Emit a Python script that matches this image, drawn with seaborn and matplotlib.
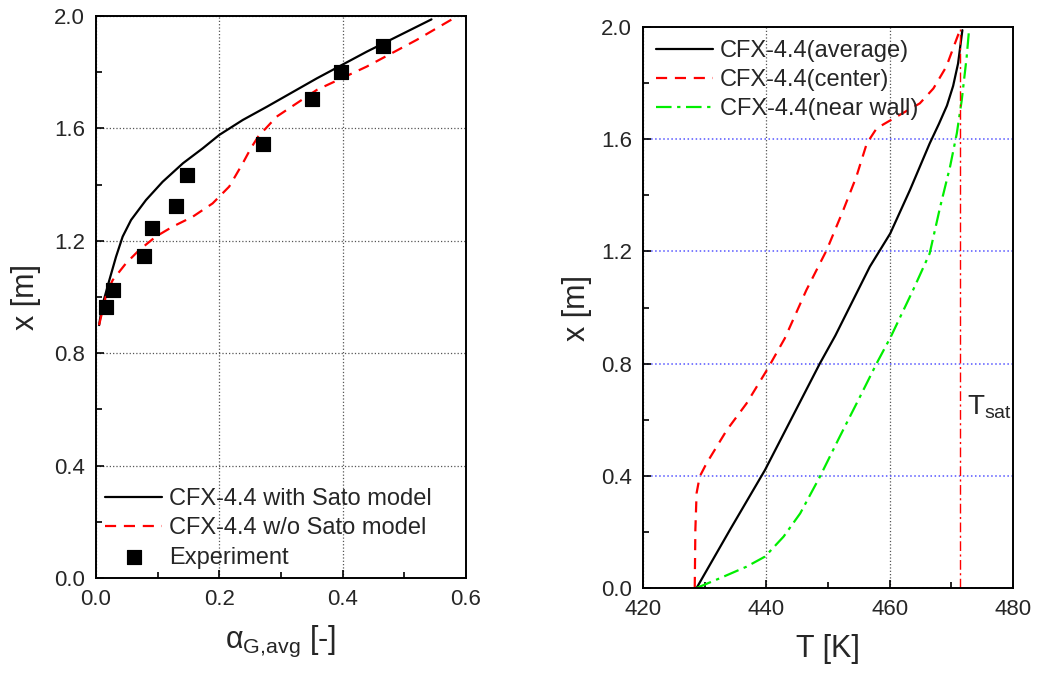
import numpy as np
import pandas as pd
import seaborn as sns
import matplotlib.pyplot as plt
from matplotlib.ticker import MultipleLocator, FormatStrFormatter

# === Dati: pannello sinistro (frazione di vuoto) ===
sato_alpha = [0.005, 0.0097, 0.0216, 0.0324, 0.0432, 0.0568, 0.081, 0.108, 0.141, 0.173, 0.200,
              0.238, 0.277, 0.358, 0.439, 0.544]
sato_x = [0.90, 0.966, 1.060, 1.143, 1.215, 1.274, 1.345, 1.410, 1.476, 1.529, 1.577,
          1.630, 1.677, 1.778, 1.873, 1.988]

nosato_alpha = [0.005, 0.017, 0.027, 0.0486, 0.070, 0.097, 0.124, 0.157, 0.189, 0.216, 0.238,
                0.251, 0.263, 0.293, 0.358, 0.439, 0.520, 0.577]
nosato_x = [0.900, 1.013, 1.060, 1.120, 1.167, 1.215, 1.250, 1.286, 1.333, 1.393, 1.476,
            1.529, 1.571, 1.642, 1.737, 1.820, 1.915, 1.988]

exp_alpha = [0.016, 0.027, 0.078, 0.091, 0.129, 0.148, 0.271, 0.351, 0.397, 0.465]
exp_x = [0.963, 1.025, 1.146, 1.247, 1.325, 1.433, 1.543, 1.706, 1.801, 1.893]

# === Dati: pannello destro (temperatura) ===
avg_T = [428.7, 434.1, 439.8, 448.7, 451.2, 456.8, 460.1, 463.3, 466.5, 468.0, 469.3, 470.3, 471.1, 471.8]
avg_x = [0.0, 0.207, 0.421, 0.801, 0.90, 1.146, 1.264, 1.419, 1.585, 1.655, 1.72, 1.79, 1.87, 1.989]

center_T = [428.4, 428.5, 428.7, 429.2, 430.3, 433.6, 436.8, 440.1, 443.0, 446.5, 449.8, 452.5,
            454.6, 456.3, 457.9, 461.1, 464.9, 467.1, 469.2, 470.6, 471.5]
center_x = [0.0, 0.207, 0.338, 0.397, 0.444, 0.563, 0.658, 0.777, 0.89, 1.062, 1.205, 1.348,
            1.466, 1.585, 1.639, 1.680, 1.728, 1.781, 1.859, 1.942, 1.995]

wall_T = [428.7, 432.5, 436.8, 439.8, 442.8, 445.5, 448.7, 451.9, 455.2, 457.9, 460.2, 463.8,
          466.5, 468.2, 469.8, 470.9, 471.7, 472.5, 472.9]
wall_x = [0.0, 0.035, 0.076, 0.112, 0.183, 0.266, 0.397, 0.539, 0.682, 0.801, 0.896, 1.062,
          1.193, 1.359, 1.502, 1.621, 1.740, 1.894, 1.995]

T_sat = 471.4

# === Stile ===
sns.set_style("white")
plt.rcParams['font.family'] = ['Liberation Sans', 'DejaVu Sans']
plt.rcParams['mathtext.fontset'] = 'custom'
plt.rcParams['mathtext.rm'] = 'Liberation Sans'
plt.rcParams['mathtext.it'] = 'Liberation Sans:italic'

fig = plt.figure(figsize=(10.37, 6.75), dpi=100)
ax1 = fig.add_axes([0.0926, 0.1437, 0.3568, 0.8326])
ax2 = fig.add_axes([0.620, 0.1289, 0.3568, 0.831])

dash = (0, (5, 3.5))
dashdot = (0, (7, 2.5, 1.5, 2.5))
leg_kw = dict(frameon=False, fontsize=17, handlelength=2.4, handletextpad=0.3,
              labelspacing=0.3, borderaxespad=0.15)

# --- Pannello sinistro ---
sns.lineplot(x=sato_alpha, y=sato_x, sort=False, estimator=None, color='black', lw=1.6,
             label='CFX-4.4 with Sato model', ax=ax1)
sns.lineplot(x=nosato_alpha, y=nosato_x, sort=False, estimator=None, color='red', lw=1.6,
             linestyle=dash, label='CFX-4.4 w/o Sato model', ax=ax1)
sns.scatterplot(x=exp_alpha, y=exp_x, marker='s', s=110, color='black', edgecolor='black',
                label='Experiment', ax=ax1, zorder=5)
ax1.set_xlim(0, 0.6)
ax1.set_ylim(0, 2.0)
ax1.xaxis.set_major_locator(MultipleLocator(0.2))
ax1.xaxis.set_minor_locator(MultipleLocator(0.1))
ax1.xaxis.set_major_formatter(FormatStrFormatter('%.1f'))
ax1.grid(True, which='major', color='#555555', linestyle=':', linewidth=0.9)
ax1.set_xlabel(r'α$_{\mathrm{G{,}avg}}$ [-]', fontsize=22, labelpad=10)
ax1.set_ylabel('x [m]', fontsize=22, labelpad=9)
ax1.legend(loc='lower left', borderpad=0.25, **leg_kw)

# --- Pannello destro ---
sns.lineplot(x=avg_T, y=avg_x, sort=False, estimator=None, color='black', lw=1.6,
             label='CFX-4.4(average)', ax=ax2)
sns.lineplot(x=center_T, y=center_x, sort=False, estimator=None, color='red', lw=1.6,
             linestyle=dash, label='CFX-4.4(center)', ax=ax2)
sns.lineplot(x=wall_T, y=wall_x, sort=False, estimator=None, color='#00ee00', lw=1.6,
             linestyle=dashdot, label='CFX-4.4(near wall)', ax=ax2)
ax2.axvline(T_sat, color='red', lw=1.0, linestyle=dashdot)
ax2.text(T_sat + 1.2, 0.617, r'T$_{\mathrm{sat}}$', fontsize=20, va='baseline')
ax2.set_xlim(420, 480)
ax2.set_ylim(0, 2.0)
ax2.xaxis.set_major_locator(MultipleLocator(20))
ax2.xaxis.set_minor_locator(MultipleLocator(10))
ax2.xaxis.set_major_formatter(FormatStrFormatter('%.0f'))
ax2.xaxis.grid(True, which='major', color='#555555', linestyle=':', linewidth=0.9)
ax2.yaxis.grid(True, which='major', color='#5555ff', linestyle=':', linewidth=1.1)
ax2.set_xlabel('T [K]', fontsize=22, labelpad=10)
ax2.set_ylabel('x [m]', fontsize=22, labelpad=6)
ax2.legend(loc='upper left', borderpad=0.4, **leg_kw)

for ax in (ax1, ax2):
    ax.yaxis.set_major_locator(MultipleLocator(0.4))
    ax.yaxis.set_minor_locator(MultipleLocator(0.2))
    ax.yaxis.set_major_formatter(FormatStrFormatter('%.1f'))
    ax.tick_params(which='both', direction='in', bottom=True, left=True, top=False, right=False,
                   labelsize=16, color='black')
    ax.tick_params(which='major', length=6, width=1.2, pad=8)
    ax.tick_params(which='minor', length=4, width=1.2)
    for sp in ax.spines.values():
        sp.set_color('black')
        sp.set_linewidth(1.4)
    ax.set_axisbelow(True)

fig.savefig('out.png', dpi=100)
